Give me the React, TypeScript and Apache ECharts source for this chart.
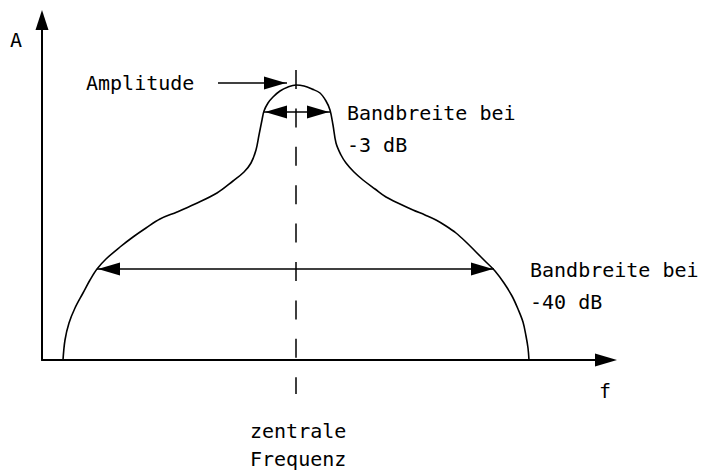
import React, { useEffect, useRef } from "react";
import * as echarts from "echarts";

// Frequency offset from the centre frequency (arbitrary units) and amplitude (arbitrary units)
const curveFreq = [
  -233, -231, -227, -221, -213, -206, -199, -190, -176, -163, -150, -136, -119, -101, -79, -63, -52, -45, -40, -37,
  -34, -32, -28, -23, -16, -8, 0, 8, 16, 24, 30, 34, 37, 40, 45, 50, 58, 67, 79, 90, 104, 117, 129, 140, 150, 160,
  170, 180, 190, 199, 208, 216, 222, 227, 230, 232, 233,
];
const curveAmp = [
  0, 20, 37, 52, 67, 80, 91, 101, 113, 123, 132, 141, 148, 156, 167, 179, 188, 197, 210, 225,
  240, 249, 257, 263, 269, 273, 275, 274, 271, 267, 259, 250, 235, 217, 205, 197, 188, 180, 171, 163, 156, 150, 145, 140, 134, 127,
  118, 108, 98, 89, 77, 64, 51, 38, 24, 12, 0,
];

const centerFreq = 0;
const centerLineAmp = [290, -34];
const amplitudeArrowFreq = [-78, -9];
const amplitudeArrowAmp = 277;
const bw3dBFreq = [-32, 34];
const bw3dBAmp = 248;
const bw40dBFreq = [-199, 198];
const bw40dBAmp = 91;

const axisNames = ["A", "f"];
const annotationTexts = ["Amplitude", "Bandbreite bei", "-3 dB", "Bandbreite bei", "-40 dB", "zentrale", "Frequenz"];

const FONT = '20px "DejaVu Sans Mono"';

function txt(text: string, x: number, y: number) {
  return {
    type: "text",
    x,
    y,
    silent: true,
    style: { text, fill: "#000", font: FONT, align: "left", verticalAlign: "middle" },
  };
}

export default function App() {
  const ref = useRef<HTMLDivElement>(null);
  useEffect(() => {
    if (!ref.current) return;
    const chart = echarts.init(ref.current, null, { renderer: "svg" });
    const curve = curveFreq.map((f, i) => [f, curveAmp[i]]);
    const axisBase = {
      axisTick: { show: false },
      axisLabel: { show: false },
      splitLine: { show: false },
    };
    chart.setOption({
      animation: false,
      backgroundColor: "#fff",
      grid: { left: 42, right: 95, top: 20, bottom: 114, containLabel: false },
      xAxis: {
        type: "value",
        min: -254,
        max: 310,
        ...axisBase,
        axisLine: {
          show: true,
          onZero: false,
          symbol: ["none", "triangle"],
          symbolSize: [13, 22],
          lineStyle: { color: "#000", width: 2 },
        },
      },
      yAxis: {
        type: "value",
        min: 0,
        max: 340,
        ...axisBase,
        axisLine: {
          show: true,
          onZero: false,
          symbol: ["none", "triangle"],
          symbolSize: [13, 20],
          lineStyle: { color: "#000", width: 2 },
        },
      },
      series: [
        {
          type: "line",
          data: curve,
          smooth: 0.35,
          symbol: "none",
          silent: true,
          lineStyle: { color: "#000", width: 1.6 },
        },
        {
          type: "line",
          data: centerLineAmp.map((a) => [centerFreq, a]),
          clip: false,
          symbol: "none",
          silent: true,
          lineStyle: { color: "#000", width: 1.5, type: [19, 19.4] },
        },
        {
          type: "line",
          data: [],
          symbol: "none",
          markLine: {
            silent: true,
            symbol: ["triangle", "triangle"],
            symbolSize: [13, 22],
            symbolOffset: [[0, 12], [0, 12]],
            label: { show: false },
            emphasis: { disabled: true },
            lineStyle: { color: "#000", width: 1.5, type: "solid" },
            data: [
              [
                { coord: [amplitudeArrowFreq[0], amplitudeArrowAmp], symbol: "none" },
                { coord: [amplitudeArrowFreq[1], amplitudeArrowAmp], symbol: "triangle" },
              ],
              [{ coord: [bw3dBFreq[0], bw3dBAmp] }, { coord: [bw3dBFreq[1], bw3dBAmp] }],
              [{ coord: [bw40dBFreq[0], bw40dBAmp] }, { coord: [bw40dBFreq[1], bw40dBAmp] }],
            ],
          },
        },
      ],
      graphic: [
        txt(axisNames[0], 10, 40),
        txt(axisNames[1], 599, 391),
        txt(annotationTexts[0], 86, 83),
        txt(annotationTexts[1], 347, 113),
        txt(annotationTexts[2], 347, 145),
        txt(annotationTexts[3], 530, 270),
        txt(annotationTexts[4], 530, 302),
        txt(annotationTexts[5], 250, 431),
        txt(annotationTexts[6], 250, 459),
      ],
    });
    return () => chart.dispose();
  }, []);
  return (
    <div
      ref={ref}
      style={{ position: "fixed", left: 0, top: 0, width: 701, height: 474, background: "#fff" }}
    />
  );
}
